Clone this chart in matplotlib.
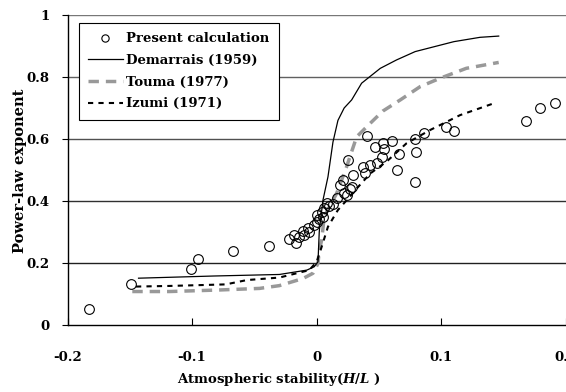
import matplotlib
matplotlib.use("Agg")
import matplotlib.pyplot as plt
import numpy as np

# Present calculation (scatter)
calc_x = [-0.183, -0.149, -0.101, -0.095, -0.067, -0.038, -0.022, -0.018, -0.017, -0.014,
          -0.011, -0.010, -0.007, -0.006, -0.002, 0.000, 0.000, 0.002, 0.004, 0.005,
          0.006, 0.008, 0.010, 0.013, 0.016, 0.019, 0.021, 0.022, 0.024, 0.027,
          0.028, 0.025, 0.029, 0.037, 0.039, 0.040, 0.043, 0.047, 0.048, 0.052,
          0.053, 0.054, 0.060, 0.066, 0.064, 0.079, 0.080, 0.079, 0.086, 0.104,
          0.110, 0.168, 0.179, 0.191]
calc_y = [0.052, 0.132, 0.182, 0.213, 0.239, 0.256, 0.277, 0.290, 0.265, 0.285,
          0.304, 0.290, 0.312, 0.301, 0.323, 0.355, 0.333, 0.341, 0.366, 0.349,
          0.376, 0.393, 0.384, 0.390, 0.411, 0.452, 0.468, 0.425, 0.419, 0.438,
          0.444, 0.532, 0.484, 0.511, 0.491, 0.611, 0.516, 0.575, 0.522, 0.541,
          0.586, 0.567, 0.592, 0.551, 0.500, 0.600, 0.559, 0.461, 0.618, 0.640,
          0.627, 0.658, 0.699, 0.715]

# Demarrais (1959)
dem_x = [-0.143, -0.083, -0.030, -0.008, -0.002, 0.001, 0.002, 0.0024, 0.005, 0.009,
         0.013, 0.017, 0.022, 0.028, 0.036, 0.051, 0.064, 0.079, 0.110, 0.131, 0.146]
dem_y = [0.151, 0.158, 0.163, 0.177, 0.188, 0.204, 0.300, 0.317, 0.403, 0.478,
         0.590, 0.660, 0.700, 0.726, 0.780, 0.828, 0.855, 0.882, 0.914, 0.928, 0.932]

# Touma (1977)
tou_x = [-0.148, -0.118, -0.078, -0.046, -0.030, -0.011, -0.003, 0.001, 0.002, 0.004,
         0.006, 0.010, 0.016, 0.024, 0.032, 0.043, 0.053, 0.067, 0.083, 0.099, 0.120, 0.146]
tou_y = [0.108, 0.108, 0.113, 0.118, 0.127, 0.150, 0.167, 0.199, 0.240, 0.275,
         0.350, 0.380, 0.425, 0.511, 0.607, 0.651, 0.690, 0.726, 0.769, 0.796, 0.828, 0.847]

# Izumi (1971)
izu_x = [-0.145, -0.118, -0.073, -0.056, -0.030, -0.022, -0.006, 0.000, 0.004, 0.009,
         0.017, 0.027, 0.032, 0.043, 0.056, 0.072, 0.091, 0.115, 0.142]
izu_y = [0.124, 0.126, 0.131, 0.145, 0.153, 0.161, 0.177, 0.204, 0.253, 0.317,
         0.371, 0.416, 0.440, 0.489, 0.527, 0.586, 0.629, 0.677, 0.715]

x_ticks = [-0.2, -0.1, 0.0, 0.1, 0.2]
x_labels = ["-0.2", "-0.1", "0", "0.1", "0.2"]
y_ticks = [0, 0.2, 0.4, 0.6, 0.8, 1.0]
y_labels = ["0", "0.2", "0.4", "0.6", "0.8", "1"]

plt.rcParams['font.family'] = ['DejaVu Serif']
plt.rcParams['font.weight'] = 'bold'
plt.rcParams['mathtext.fontset'] = 'custom'
plt.rcParams['mathtext.bfit'] = 'DejaVu Serif:italic:bold'
plt.rcParams['mathtext.it'] = 'DejaVu Serif:italic:bold'
plt.rcParams['mathtext.rm'] = 'DejaVu Serif:bold'

fig = plt.figure(figsize=(5.66, 3.92), dpi=100)
ax = fig.add_axes([67.5/566, 67/392, (566-67.5)/566, (325-15)/392])

grid_colors = ['#202020', '#303030', '#505050', '#606060', '#777777']
for yv, gc in zip(y_ticks[1:], grid_colors):
    ax.axhline(yv, color=gc, lw=1.0, zorder=0)

ax.plot(dem_x, dem_y, color='black', lw=0.9, label='Demarrais (1959)', zorder=3)
ax.plot(tou_x, tou_y, color='#999999', lw=2.5, ls=(0, (3, 2)), label='Touma (1977)', zorder=2)
ax.plot(izu_x, izu_y, color='black', lw=1.5, ls=(0, (2.5, 2.5)), label='Izumi (1971)', zorder=3)
ax.plot(calc_x, calc_y, ls='none', marker='o', ms=7, mfc='none', mec='black', mew=0.8,
        label='Present calculation', zorder=4)

ax.set_xlim(-0.2, 0.2)
ax.set_ylim(0, 1)
ax.set_xticks(x_ticks)
ax.set_xticklabels(x_labels)
ax.set_yticks(y_ticks)
ax.set_yticklabels(y_labels)
ax.tick_params(axis='x', direction='in', length=5, width=0.8, pad=19, labelsize=9.5)
ax.tick_params(axis='y', direction='out', length=4, width=0.8, pad=9, labelsize=9.5)
for s in ['top', 'right']:
    ax.spines[s].set_visible(False)
for s in ['left', 'bottom']:
    ax.spines[s].set_linewidth(1.0)
    ax.spines[s].set_color('black')

fig.text(279/566, 1 - 380/392, 'Atmospheric stability($\\mathit{H}$/$\\mathit{L}$ )', ha='center', va='center',
         fontsize=9.5, fontweight='bold')
fig.text(20/566, 1 - 171/392, 'Power-law exponent', rotation=90, ha='center', va='center',
         fontsize=10.5, fontweight='bold')

handles, labels = ax.get_legend_handles_labels()
order = [3, 0, 1, 2]
leg = fig.legend([handles[i] for i in order], [labels[i] for i in order],
                 loc='upper left', bbox_to_anchor=(79/566, 1 - 23/392),
                 bbox_transform=fig.transFigure, fancybox=False,
                 framealpha=1, edgecolor='black', fontsize=9.5, handlelength=2.6,
                 handletextpad=0.3, borderpad=0.7, labelspacing=0.66, borderaxespad=0,
                 markerscale=0.75)
leg.get_frame().set_linewidth(0.8)
leg.set_zorder(10)

fig.savefig('out.png', dpi=100)
